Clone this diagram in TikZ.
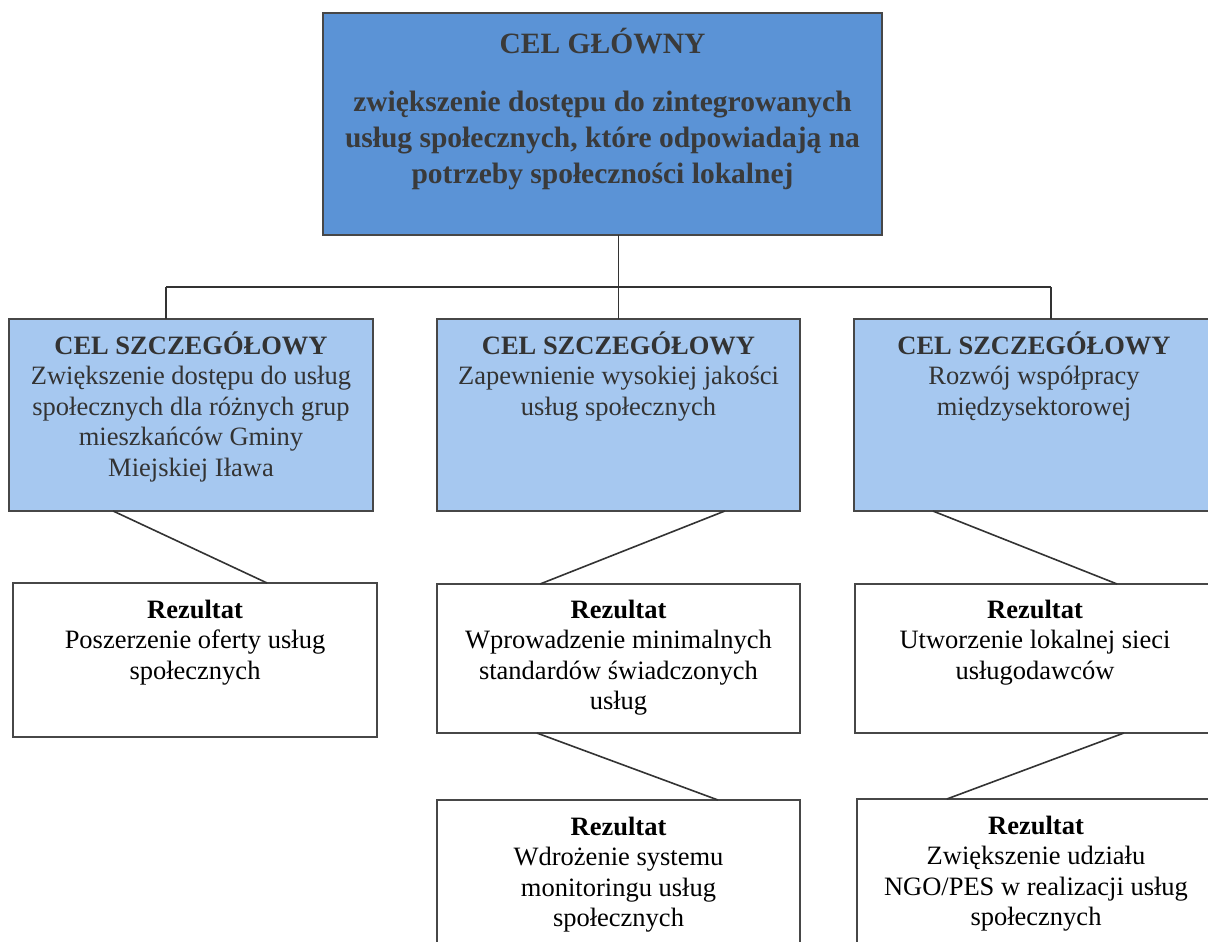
\documentclass[tikz,border=0pt]{standalone}
\usepackage{fontspec}
\setmainfont{Liberation Serif}
\usetikzlibrary{calc}
\definecolor{topblue}{HTML}{5B93D6}
\definecolor{goalblue}{HTML}{A6C8F0}
\definecolor{bordercol}{HTML}{474747}
\definecolor{toptext}{HTML}{3A3A3A}
\definecolor{goaltext}{HTML}{333333}
\definecolor{linecol}{HTML}{333333}
\newcommand\boxcontent[5]{\begin{minipage}[c][#2][t]{#1}\centering\vspace*{#3}\rule{0pt}{#4}#5\end{minipage}}
\newcommand\bodyfont{\fontsize{26.5pt}{30.5pt}\selectfont}
\newcommand\topfont{\fontsize{29.5pt}{36.5pt}\selectfont\bfseries}
\tikzset{
  box/.style={draw=bordercol, line width=1.8pt, inner sep=0pt, outer sep=0pt, anchor=north west},
  topbox/.style={box, fill=topblue, text=toptext},
  goalbox/.style={box, fill=goalblue, text=goaltext},
  resbox/.style={box, fill=white, text=black},
  link/.style={draw=linecol, line width=1.6pt}
}
\begin{document}
\begin{tikzpicture}[x=1pt,y=-1pt]
\useasboundingbox (0,0) rectangle (1208,942);
\clip (0,0) rectangle (1208,942);
\fill[white] (0,0) rectangle (1208,942);
% main goal
\node[topbox] (top) at (323,13) {\boxcontent{559pt}{222pt}{13pt}{27pt}{\topfont CEL GŁÓWNY\\[21.5pt]zwiększenie dostępu do zintegrowanych\\usług społecznych, które odpowiadają na\\potrzeby społeczności lokalnej}};
% specific goals
\node[goalbox] (s1) at (9,319) {\boxcontent{364pt}{192pt}{10pt}{25pt}{\bodyfont\textbf{CEL SZCZEGÓŁOWY}\\Zwiększenie dostępu do usług\\społecznych dla różnych grup\\mieszkańców Gminy\\Miejskiej Iława}};
\node[goalbox] (s2) at (437,319) {\boxcontent{363pt}{192pt}{10pt}{25pt}{\bodyfont\textbf{CEL SZCZEGÓŁOWY}\\Zapewnienie wysokiej jakości\\usług społecznych}};
\node[goalbox] (s3) at (854,319) {\boxcontent{360pt}{192pt}{10pt}{25pt}{\bodyfont\textbf{CEL SZCZEGÓŁOWY}\\Rozwój współpracy\\międzysektorowej}};
% results
\node[resbox] (r1) at (13,583) {\boxcontent{364pt}{154pt}{10pt}{25pt}{\bodyfont\textbf{Rezultat}\\Poszerzenie oferty usług\\społecznych}};
\node[resbox] (r2) at (437,584) {\boxcontent{363pt}{149pt}{9pt}{25pt}{\bodyfont\textbf{Rezultat}\\Wprowadzenie minimalnych\\standardów świadczonych\\usług}};
\node[resbox] (r3) at (855,584) {\boxcontent{360pt}{149pt}{9pt}{25pt}{\bodyfont\textbf{Rezultat}\\Utworzenie lokalnej sieci\\usługodawców}};
\node[resbox] (r4) at (437,800) {\boxcontent{363pt}{160pt}{10pt}{25pt}{\bodyfont\textbf{Rezultat}\\Wdrożenie systemu\\monitoringu usług\\społecznych}};
\node[resbox] (r5) at (857,799) {\boxcontent{358pt}{160pt}{10pt}{25pt}{\bodyfont\textbf{Rezultat}\\Zwiększenie udziału\\NGO/PES w realizacji usług\\społecznych}};
% connectors
\coordinate (busL) at (166,287);
\coordinate (busR) at (1051,287);
\draw[link] (top.south -| s2.north) -- (s2.north);
\draw[link] (busL) -- (busR);
\draw[link] (busL) -- (busL |- s1.north);
\draw[link] (busR) -- (busR |- s3.north);
\draw[link] ($(s1.south west)!0.286!(s1.south east)$) -- ($(r1.north west)!0.698!(r1.north east)$);
\draw[link] ($(s2.south west)!0.793!(s2.south east)$) -- ($(r2.north west)!0.284!(r2.north east)$);
\draw[link] ($(s3.south west)!0.219!(s3.south east)$) -- ($(r3.north west)!0.728!(r3.north east)$);
\draw[link] ($(r2.south west)!0.275!(r2.south east)$) -- ($(r4.north west)!0.774!(r4.north east)$);
\draw[link] ($(r3.south west)!0.747!(r3.south east)$) -- ($(r5.north west)!0.251!(r5.north east)$);
\end{tikzpicture}
\end{document}
